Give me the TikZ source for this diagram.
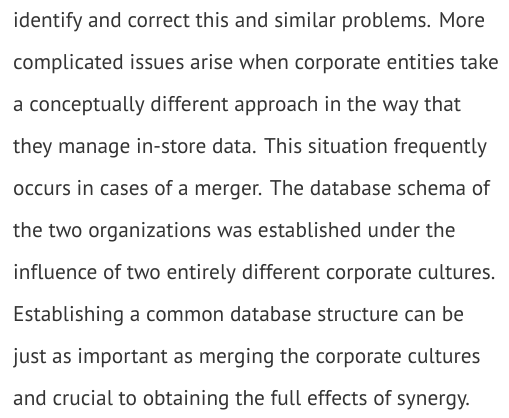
\documentclass[tikz,border=0pt]{standalone}
\usepackage{fontspec}
\setmainfont[Ligatures=NoCommon]{PT Sans}
\definecolor{textgrey}{HTML}{343434}
\tikzset{
  textline/.style={anchor=base west,inner sep=0pt,text=textgrey,font=\fontsize{21.3bp}{24bp}\selectfont}
}
\begin{document}
\begin{tikzpicture}[x=1bp,y=1bp]
        %% page
        \useasboundingbox[fill=white] (0,0) rectangle (509,-417);
        %% lines of the paragraph
        \node[textline] (l1) at (13,-27) {identify and correct this and similar problems. More};
        \node[textline] (l2) at (13,-69) {complicated issues arise when corporate entities take};
        \node[textline] (l3) at (13,-111) {a conceptually different approach in the way that};
        \node[textline] (l4) at (13,-153) {they manage in-store data. This situation frequently};
        \node[textline] (l5) at (13,-195) {occurs in cases of a merger. The database schema of};
        \node[textline] (l6) at (13,-237) {the two organizations was established under the};
        \node[textline] (l7) at (13,-279) {influence of two entirely different corporate cultures.};
        \node[textline] (l8) at (13,-321) {Establishing a common database structure can be};
        \node[textline] (l9) at (13,-363) {just as important as merging the corporate cultures};
        \node[textline] (l10) at (13,-405) {and crucial to obtaining the full effects of synergy.};
\end{tikzpicture}
\end{document}
